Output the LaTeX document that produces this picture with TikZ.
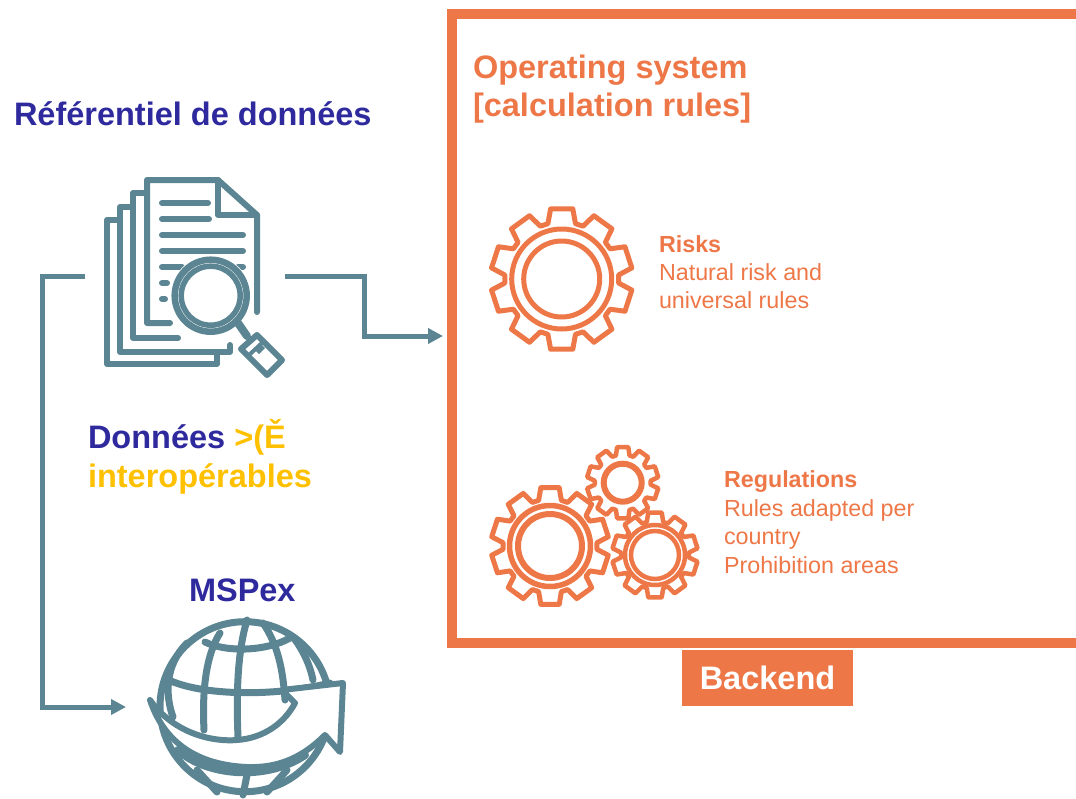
\documentclass[tikz,border=0pt]{standalone}
\usepackage{fontspec}
\setmainfont{Liberation Sans}
\usetikzlibrary{arrows.meta}
\definecolor{navy}{HTML}{2E2A9E}
\definecolor{gold}{HTML}{FFC000}
\definecolor{orng}{HTML}{EE7748}
\definecolor{teal2}{HTML}{5B8592}
\newcommand{\gearicon}[6]{%cx,cy,router,rroot,lw,rot
 \begin{scope}[shift={(#1,#2)},rotate=#6]
  \draw[orng,line width=#5pt,line join=round]
   (90-14:#4) \foreach \k in {0,...,9}{
     -- ({90+36*\k-14}:#4) -- ({90+36*\k-9}:#3) -- ({90+36*\k+9}:#3) -- ({90+36*\k+14}:#4)
   } -- cycle;
 \end{scope}}
\tikzset{
 x=1pt,y=-1pt,
 lbl/.style={anchor=base west,inner sep=0pt,outer sep=0pt},
 head/.style={lbl,font=\fontsize{32.5}{36}\selectfont\bfseries},
 small/.style={lbl,text=orng,font=\fontsize{23.3}{26}\selectfont},
 smallb/.style={lbl,text=orng,font=\fontsize{23.3}{26}\selectfont\bfseries},
 conn/.style={teal2,line width=5pt,-{Triangle[length=15pt,width=15pt]}},
 ic/.style={teal2,line width=6pt,line cap=round,line join=round},
 gl/.style={teal2,line width=7pt,line cap=round,line join=round},
 ring/.style={orng,line width=#1pt},
 ring/.default=5
}
\begin{document}
\begin{tikzpicture}
\useasboundingbox (0,0) rectangle (1076,798);
% --- document icon
\coordinate (docR) at (285,276);
\coordinate (docL) at (85,276);
\coordinate (frameIn) at (443,336);
\coordinate (globeIn) at (126,707);
\draw[ic] (217,353) -- (217,364) -- (107,364) -- (107,220) -- (118,220);
\draw[ic] (230,345) -- (230,352) -- (120,352) -- (120,207) -- (130,207);
\draw[ic] (178,338) -- (133,338) -- (133,193) -- (145,193);
\draw[ic] (170,323) -- (147,323) -- (147,180) -- (218,180) -- (257,215) -- (257,312);
\draw[ic] (218,180) -- (218,215) -- (257,215);
\foreach \ya/\xa/\xb in {203/162/208,219/162/209,235/162/243,251/162/243,267/162/182,267/238/243,283/162/167,299/162/165}
  \draw[ic] (\xa,\ya) -- (\xb,\ya);
% magnifier
\fill[white] (210.7,295.7) circle (40);
\draw[ic,line width=6.5pt] (210.7,295.7) circle (36);
\draw[ic,line width=5.5pt] (210.7,295.7) circle (29.5);
\draw[ic,line width=8pt] (238,323) -- (247,336);
\draw[ic,fill=white] (257,335) -- (282,360) -- (267,375) -- (241,349) -- cycle;
\draw[ic,line width=4pt] (263,342) -- (248,356);
\fill[teal2] (256,351) -- (262,345) -- (265,348) -- (259,354) -- cycle;
% --- globe
\draw[gl] (245,706.7) circle (85);
\draw[gl] (205,642) .. controls (225,652) and (265,652) .. (290,638);
\draw[gl] (165,678) .. controls (195,695) and (270,698) .. (330,683);
\draw[gl] (247,620) .. controls (238,650) and (236,690) .. (238,737);
\draw[gl] (220,633) .. controls (206,655) and (202,690) .. (204,730);
\draw[gl] (187,643) .. controls (165,665) and (165,695) .. (173,717);
\draw[gl] (263,623) .. controls (278,645) and (283,670) .. (285,700);
\draw[gl] (293,637) .. controls (303,650) and (310,665) .. (313,680);
\draw[gl] (197,770) -- (217,792);
\draw[gl] (247,775) -- (243,795);
\draw[gl] (287,770) -- (267,792);
\draw[gl,line width=8pt] (178,750) .. controls (205,775) and (265,782) .. (305,755);
\draw[teal2,line width=6pt,line join=round,fill=white]
  (150,700) .. controls (175,735) and (215,742) .. (237,740)
  .. controls (265,738) and (285,722) .. (295,703)
  -- (282,690) -- (343,683) -- (340,752) -- (325,735)
  .. controls (300,760) and (275,768) .. (247,767)
  .. controls (200,765) and (165,745) .. (150,700) -- cycle;
% --- frame
\draw[orng,line width=10pt] (1080,14) -- (452,14) -- (452,643) -- (1080,643);
% --- gears
\gearicon{561.7}{279}{71}{57}{5}{0}
\draw[ring] (561.7,279) circle (50);
\draw[ring] (561.7,279) circle (38);
\gearicon{550}{546}{59}{47}{5}{0}
\draw[ring=5.5] (550,546) circle (40.5);
\draw[ring=6] (550,546) circle (32);
\gearicon{622.7}{482.7}{36}{28}{4.5}{0}
\draw[ring=6] (622.7,482.7) circle (19);
\gearicon{655}{555}{43}{34}{4.5}{0}
\draw[ring=4.5] (655,555) circle (30);
\draw[ring=4.5] (655,555) circle (24);
% --- texts
\node[head,text=navy] (title) at (14,125) {Référentiel de données};
\node[head,text=navy] (d1) at (88,448) {Données \textcolor{gold}{>(Ě}};
\node[head,text=gold] (d2) at (88,487) {interopérables};
\node[head,text=navy] (msp) at (189,601) {MSPex};
\node[head,text=orng] (os1) at (473,78) {Operating system};
\node[head,text=orng] (os2) at (473,116) {[calculation rules]};
\node[smallb] (r0) at (659,252) {Risks};
\node[small] (r1) at (659,280) {Natural risk and};
\node[small] (r2) at (659,308) {universal rules};
\node[smallb] (g0) at (724,487) {Regulations};
\node[small] (g1) at (724,516) {Rules adapted per};
\node[small] (g2) at (724,544) {country};
\node[small] (g3) at (724,573) {Prohibition areas};
\node[fill=orng,text=white,minimum width=171pt,minimum height=56pt,inner sep=0pt,font=\fontsize{32.5}{36}\selectfont\bfseries] (back) at (767.5,678) {Backend};
% --- connectors
\draw[conn] (docR) -- (364,276) -- (364,336) -- (frameIn);
\draw[conn] (docL) -- (42,276) -- (42,707) -- (globeIn);
\end{tikzpicture}
\end{document}
